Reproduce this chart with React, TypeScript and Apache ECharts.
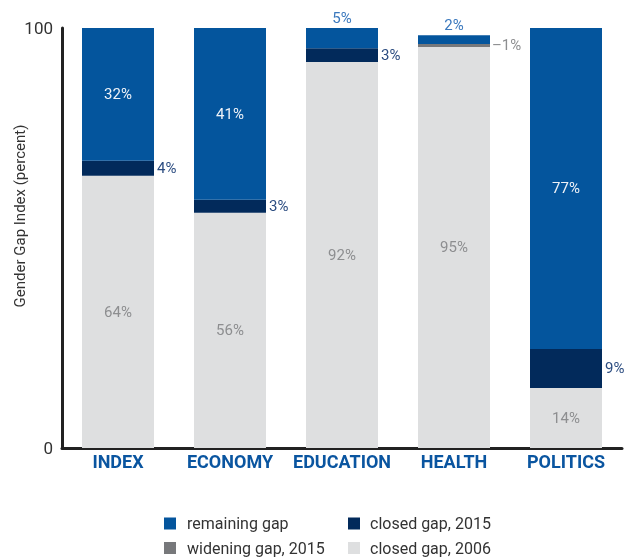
import React, { useEffect, useRef } from "react";
import * as echarts from "echarts";

const categories = ["INDEX", "ECONOMY", "EDUCATION", "HEALTH", "POLITICS"];
const closed2006 = [64.8, 56.0, 91.9, 95.5, 14.3];
const closed2015 = [3.6, 3.1, 3.3, null, 9.3];
const widening2015 = [null, null, null, 0.7, null];
const remaining = [31.6, 40.9, 4.8, 2.1, 76.4];

const closed2006Labels = ["64%", "56%", "92%", "95%", "14%"];
const closed2015Labels = ["4%", "3%", "3%", "", "9%"];
const wideningLabels = ["", "", "", "\u20131%", ""];
const remainingLabels = ["32%", "41%", "5%", "2%", "77%"];

const yTicks = [0, 100];

const FONT = 'Roboto, "DejaVu Sans Condensed", sans-serif';

const C_REMAIN = "#04559d";
const C_CLOSED15 = "#022a5b";
const C_WIDEN = "#77787b";
const C_CLOSED06 = "#dedfe0";

export default function App() {
  const ref = useRef<HTMLDivElement>(null);
  useEffect(() => {
    if (!ref.current) return;
    const chart = echarts.init(ref.current, null, { renderer: "svg" });
    const legendBase = {
      orient: "vertical",
      top: 514,
      height: 60,
      padding: 0,
      itemWidth: 12,
      itemHeight: 12,
      itemGap: 5.5,
      icon: "rect",
      selectedMode: false,
    };
    const option = {
      animation: false,
      textStyle: { fontFamily: FONT },
      grid: { left: 62, right: 11, top: 28, bottom: 112, containLabel: false },
      legend: [
        {
          ...legendBase,
          left: 164,
          data: ["remaining gap", "widening gap, 2015"],
          textStyle: { fontFamily: FONT, fontSize: 16, lineHeight: 19, color: "#333", padding: [0, 0, 0, 6] },
        },
        {
          ...legendBase,
          left: 348,
          data: ["closed gap, 2015", "closed gap, 2006"],
          textStyle: { fontFamily: FONT, fontSize: 16, lineHeight: 19, color: "#333", padding: [0, 0, 0, 5] },
        },
      ],
      graphic: [
        {
          type: "text",
          x: 20,
          y: 216,
          rotation: Math.PI / 2,
          style: {
            text: "Gender Gap Index (percent)",
            fontFamily: FONT,
            fontSize: 15,
            fill: "#333",
            align: "center",
            verticalAlign: "middle",
          },
        },
      ],
      xAxis: {
        type: "category",
        data: categories,
        axisLine: { show: true, lineStyle: { color: "#222", width: 3 } },
        axisTick: { show: false },
        axisLabel: {
          interval: 0,
          fontFamily: FONT,
          fontSize: 18,
          fontWeight: "bold",
          color: "#0a55a0",
          margin: 4,
        },
      },
      yAxis: {
        type: "value",
        min: yTicks[0],
        max: yTicks[yTicks.length - 1],
        interval: 100,
        axisLine: { show: true, lineStyle: { color: "#222", width: 3 } },
        axisTick: { show: false },
        splitLine: { show: false },
        axisLabel: { fontFamily: FONT, fontSize: 17, color: "#333", margin: 9 },
      },
      series: [
        {
          name: "closed gap, 2006",
          type: "bar",
          stack: "g",
          barWidth: 72,
          itemStyle: { color: C_CLOSED06 },
          label: {
            show: true,
            position: "inside",
            fontFamily: FONT,
            fontSize: 15,
            color: "#8d8e90",
            formatter: (p: any) => closed2006Labels[p.dataIndex],
          },
          data: closed2006,
        },
        {
          name: "closed gap, 2015",
          type: "bar",
          stack: "g",
          barWidth: 72,
          itemStyle: { color: C_CLOSED15 },
          label: {
            show: true,
            position: "right",
            distance: 3,
            fontFamily: FONT,
            fontSize: 15,
            color: "#2b4c80",
            formatter: (p: any) => closed2015Labels[p.dataIndex],
          },
          data: closed2015,
        },
        {
          name: "widening gap, 2015",
          type: "bar",
          stack: "g",
          barWidth: 72,
          itemStyle: { color: C_WIDEN },
          label: {
            show: true,
            position: "right",
            distance: 2,
            fontFamily: FONT,
            fontSize: 15,
            color: "#8d8e90",
            formatter: (p: any) => wideningLabels[p.dataIndex],
          },
          data: widening2015,
        },
        {
          name: "remaining gap",
          type: "bar",
          stack: "g",
          barWidth: 72,
          itemStyle: { color: C_REMAIN },
          label: {
            show: true,
            position: "inside",
            fontFamily: FONT,
            fontSize: 15,
            color: "#eef2f8",
            formatter: (p: any) => remainingLabels[p.dataIndex],
          },
          data: remaining.map((v) =>
            v < 10
              ? { value: v, label: { position: "top", distance: 3, color: "#3a78bd" } }
              : v
          ),
        },
      ],
    };
    chart.setOption(option as any);
    return () => chart.dispose();
  }, []);
  return (
    <div
      ref={ref}
      style={{ position: "fixed", left: 0, top: 0, width: 633, height: 560 }}
    />
  );
}
